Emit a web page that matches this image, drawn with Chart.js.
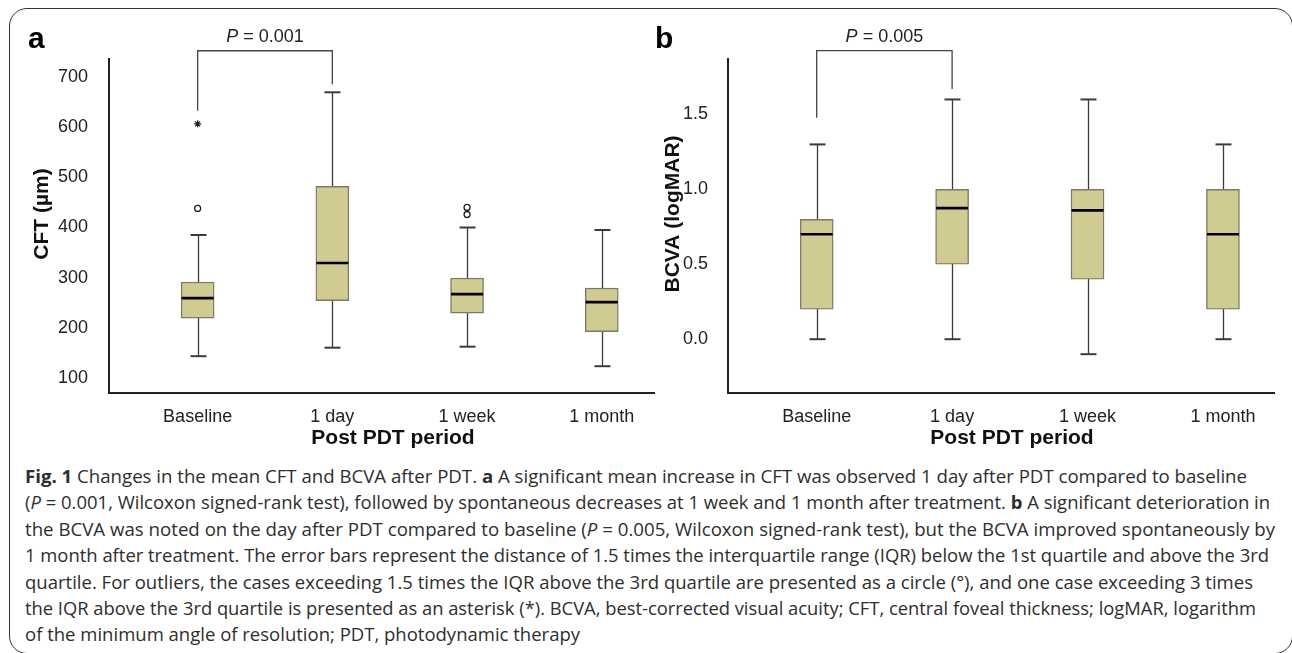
<!DOCTYPE html>
<html lang="en">
<head>
<meta charset="UTF-8">
<title>Fig. 1 CFT and BCVA after PDT</title>
<style>
  html, body { margin: 0; padding: 0; background: #fff; }
  body { width: 1292px; height: 653px; position: relative; overflow: hidden; }
  .frame { position: absolute; left: 9px; top: 8px; width: 1284px; height: 646px; box-sizing: border-box;
           border: 1.6px solid #333; border-radius: 18px; }
  canvas { position: absolute; top: 0; }
  #panelA { left: 0; }
  #panelB { left: 640px; }
  .caption { position: absolute; left: 25px; top: 463px; font-family: "Open Sans", sans-serif; font-size: 18px;
             line-height: 26.4px; color: #2e2e2e; }
  .caption .line { display: block; white-space: nowrap; width: max-content; transform-origin: 0 0; }
</style>
</head>
<body>
<div class="frame"></div>
<canvas id="panelA" width="660" height="455"></canvas>
<canvas id="panelB" width="652" height="455"></canvas>

<div class="caption">
  <span class="line"><b>Fig. 1</b> Changes in the mean CFT and BCVA after PDT. <b>a</b> A significant mean increase in CFT was observed 1 day after PDT compared to baseline</span>
  <span class="line">(<i>P</i> = 0.001, Wilcoxon signed-rank test), followed by spontaneous decreases at 1 week and 1 month after treatment. <b>b</b> A significant deterioration in</span>
  <span class="line">the BCVA was noted on the day after PDT compared to baseline (<i>P</i> = 0.005, Wilcoxon signed-rank test), but the BCVA improved spontaneously by</span>
  <span class="line">1 month after treatment. The error bars represent the distance of 1.5 times the interquartile range (IQR) below the 1st quartile and above the 3rd</span>
  <span class="line">quartile. For outliers, the cases exceeding 1.5 times the IQR above the 3rd quartile are presented as a circle (°), and one case exceeding 3 times</span>
  <span class="line">the IQR above the 3rd quartile is presented as an asterisk (*). BCVA, best-corrected visual acuity; CFT, central foveal thickness; logMAR, logarithm</span>
  <span class="line">of the minimum angle of resolution; PDT, photodynamic therapy</span>
</div>

<script src="https://cdn.jsdelivr.net/npm/chart.js"></script>
<script>
// ---- data ----
const categories = ['Baseline', '1 day', '1 week', '1 month'];

// a: CFT (um)
const cftMin    = [143, 160, 162, 123];
const cftQ1     = [219, 254, 229, 192];
const cftMedian = [259, 329, 267, 251];
const cftQ3     = [291, 482, 299, 279];
const cftMax    = [385, 670, 400, 395];
const cftCircles = [{x: 0, y: 438}, {x: 2, y: 440}, {x: 2, y: 426}];
const cftStars   = [{x: 0, y: 607}];
const cftTicks   = [100, 200, 300, 400, 500, 600, 700];

// b: BCVA (logMAR)
const bcvaMin    = [0, 0, -0.1, 0];
const bcvaQ1     = [0.2, 0.5, 0.4, 0.2];
const bcvaMedian = [0.7, 0.875, 0.86, 0.7];
const bcvaQ3     = [0.8, 1.0, 1.0, 1.0];
const bcvaMax    = [1.3, 1.6, 1.6, 1.3];
const bcvaTicks  = [0, 0.5, 1.0, 1.5];

// significance brackets: [from, to, left leg end, right leg end, top]
const cftBracket  = [0, 1, 633, 686, 753];
const bcvaBracket = [0, 1, 1.478, 1.67, 1.926];
const cftPText  = '0.001';
const bcvaPText = '0.005';

const FONT = '"Liberation Sans", Arial, sans-serif';
const BOX_FILL = '#d0cb91';
const BOX_LINE = '#7c7a66';
const INK = '#222';

// whiskers, medians, bracket and labels drawn on the chart's own scales
const boxExtras = {
  id: 'boxExtras',
  beforeDatasetsDraw(chart, args, o) {
    const x = chart.scales.x, y = chart.scales.y, ctx = chart.ctx;
    ctx.save();
    ctx.strokeStyle = '#3b3b3b';
    o.lo.forEach((lo, i) => {
      const px = Math.round(x.getPixelForValue(i)) + 0.5;
      ctx.lineWidth = 1.3;
      ctx.beginPath();
      ctx.moveTo(px, y.getPixelForValue(lo));
      ctx.lineTo(px, y.getPixelForValue(o.hi[i]));
      ctx.stroke();
      ctx.lineWidth = 2;
      [lo, o.hi[i]].forEach(v => {
        const py = y.getPixelForValue(v);
        ctx.beginPath();
        ctx.moveTo(px - 8, py);
        ctx.lineTo(px + 8, py);
        ctx.stroke();
      });
    });
    ctx.restore();
  },
  afterDatasetsDraw(chart, args, o) {
    const x = chart.scales.x, y = chart.scales.y, ctx = chart.ctx;
    const area = chart.chartArea;
    ctx.save();
    // medians
    ctx.strokeStyle = '#000';
    ctx.lineWidth = 2.6;
    o.med.forEach((m, i) => {
      const px = x.getPixelForValue(i), py = y.getPixelForValue(m);
      ctx.beginPath();
      ctx.moveTo(px - 16, py);
      ctx.lineTo(px + 16, py);
      ctx.stroke();
    });
    // bracket
    const b = o.bracket;
    const x1 = x.getPixelForValue(b[0]), x2 = x.getPixelForValue(b[1]);
    const yTop = y.getPixelForValue(b[4]);
    ctx.strokeStyle = '#444';
    ctx.lineWidth = 1.3;
    ctx.beginPath();
    ctx.moveTo(x1, y.getPixelForValue(b[2]));
    ctx.lineTo(x1, yTop);
    ctx.lineTo(x2, yTop);
    ctx.lineTo(x2, y.getPixelForValue(b[3]));
    ctx.stroke();
    // P value
    ctx.fillStyle = INK;
    ctx.textBaseline = 'middle';
    ctx.font = 'italic 18px ' + FONT;
    const pW = ctx.measureText('P').width;
    ctx.font = '18px ' + FONT;
    const rest = ' = ' + o.pText;
    const rW = ctx.measureText(rest).width;
    const cx = (x1 + x2) / 2, startX = cx - (pW + rW) / 2;
    ctx.textAlign = 'left';
    ctx.font = 'italic 18px ' + FONT;
    ctx.fillText('P', startX, 37);
    ctx.font = '18px ' + FONT;
    ctx.fillText(rest, startX + pW, 37);
    // panel letter
    ctx.font = 'bold 30px ' + FONT;
    ctx.textBaseline = 'alphabetic';
    ctx.fillStyle = '#000';
    ctx.fillText(o.letter, o.letterX, 48);
    // axis titles
    ctx.font = 'bold 21px ' + FONT;
    ctx.textAlign = 'center';
    ctx.textBaseline = 'middle';
    ctx.fillStyle = '#111';
    ctx.fillText('Post PDT period', area.left + 284, 438);
    ctx.translate(o.yTitleX, 214);
    ctx.rotate(-Math.PI / 2);
    ctx.fillText(o.yTitle, 0, 0);
    ctx.restore();
  }
};

function makePanel(id, cfg) {
  const ctx = document.getElementById(id).getContext('2d');
  return new Chart(ctx, {
    type: 'bar',
    data: {
      datasets: [
        {
          type: 'bar',
          data: categories.map((c, i) => ({x: i, y: [cfg.q1[i], cfg.q3[i]]})),
          backgroundColor: BOX_FILL,
          borderColor: BOX_LINE,
          borderWidth: 1.4,
          borderSkipped: false,
          barThickness: 33
        },
        {
          type: 'scatter',
          data: cfg.circles,
          pointStyle: 'circle',
          pointRadius: 3,
          borderColor: INK,
          borderWidth: 1.3,
          backgroundColor: '#fff'
        },
        {
          type: 'scatter',
          data: cfg.stars,
          pointStyle: 'star',
          pointRadius: 3.5,
          borderColor: INK,
          borderWidth: 1.2
        }
      ]
    },
    options: {
      responsive: false,
      animation: false,
      layout: { padding: { left: 0, right: cfg.padRight, top: 59, bottom: 0 } },
      plugins: {
        legend: { display: false },
        tooltip: { enabled: false },
        boxExtras: {
          lo: cfg.min, hi: cfg.max, med: cfg.med, bracket: cfg.bracket, pText: cfg.pText,
          letter: cfg.letter, letterX: cfg.letterX, yTitle: cfg.yTitle, yTitleX: cfg.yTitleX
        }
      },
      scales: {
        x: {
          type: 'linear',
          offset: false,
          min: cfg.xMin,
          max: cfg.xMax,
          grid: { display: false },
          border: { display: true, color: INK, width: 2 },
          ticks: {
            autoSkip: false,
            padding: 5,
            color: INK,
            font: { size: 18, family: FONT },
            callback: v => categories[v]
          },
          afterBuildTicks: s => { s.ticks = categories.map((c, i) => ({value: i})); },
          afterFit: s => { s.height = 62; }
        },
        y: {
          min: cfg.yMin,
          max: cfg.yMax,
          grid: { display: false },
          border: { display: true, color: INK, width: 2 },
          ticks: {
            padding: cfg.tickPad,
            color: INK,
            font: { size: 18, family: FONT },
            callback: v => v.toFixed(cfg.decimals)
          },
          afterBuildTicks: s => { s.ticks = cfg.ticks.map(v => ({value: v})); },
          afterFit: s => { s.width = cfg.yWidth; }
        }
      }
    },
    plugins: [boxExtras]
  });
}

makePanel('panelA', {
  q1: cftQ1, q3: cftQ3, min: cftMin, max: cftMax, med: cftMedian,
  circles: cftCircles, stars: cftStars, ticks: cftTicks, decimals: 0,
  yMin: 69.5, yMax: 736.5, xMin: -0.658, xMax: 3.393,
  yWidth: 109, padRight: 5, tickPad: 13,
  bracket: cftBracket, pText: cftPText,
  letter: 'a', letterX: 28, yTitle: 'CFT (\u00b5m)', yTitleX: 42
});

makePanel('panelB', {
  q1: bcvaQ1, q3: bcvaQ3, min: bcvaMin, max: bcvaMax, med: bcvaMedian,
  circles: [], stars: [], ticks: bcvaTicks, decimals: 1,
  yMin: -0.359, yMax: 1.870, xMin: -0.655, xMax: 3.377,
  yWidth: 88, padRight: 18, tickPad: 12,
  bracket: bcvaBracket, pText: bcvaPText,
  letter: 'b', letterX: 15, yTitle: 'BCVA (logMAR)', yTitleX: 33
});

// squeeze each caption line to the width it has in the figure
const lineWidths = [1222, 1245, 1250, 1244, 1228, 1231];
const lines = document.querySelectorAll('.caption .line');
let scaleSum = 0;
lines.forEach((el, i) => {
  if (i < lineWidths.length) {
    const s = lineWidths[i] / el.getBoundingClientRect().width;
    scaleSum += s;
    el.style.transform = 'scaleX(' + s + ')';
  } else {
    el.style.transform = 'scaleX(' + (scaleSum / lineWidths.length) + ')';
  }
});
</script>
</body>
</html>
